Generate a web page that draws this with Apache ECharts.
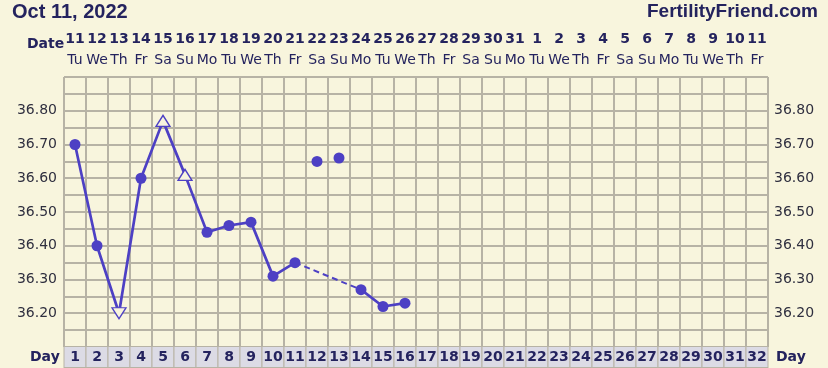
<!DOCTYPE html>
<html>
<head>
<meta charset="utf-8">
<script src="https://cdn.jsdelivr.net/npm/echarts@6/dist/echarts.min.js"></script>
<style>
html,body{margin:0;padding:0;background:#f8f5dd;}
#chart{width:828px;height:368px;}
</style>
</head>
<body>
<div id="chart"></div>
<script>
// ---- data ----
const dayNumbers = ['1','2','3','4','5','6','7','8','9','10','11','12','13','14','15','16','17','18','19','20','21','22','23','24','25','26','27','28','29','30','31','32'];
const dateLabels = ['11','12','13','14','15','16','17','18','19','20','21','22','23','24','25','26','27','28','29','30','31','1','2','3','4','5','6','7','8','9','10','11'];
const weekdayLabels = ['Tu','We','Th','Fr','Sa','Su','Mo','Tu','We','Th','Fr','Sa','Su','Mo','Tu','We','Th','Fr','Sa','Su','Mo','Tu','We','Th','Fr','Sa','Su','Mo','Tu','We','Th','Fr'];
const temps = [36.70, 36.40, 36.20, 36.60, 36.77, 36.61, 36.44, 36.46, 36.47, 36.31, 36.35, 36.65, 36.66, 36.27, 36.22, 36.23];
const markers = ['dot','dot','down','dot','up','up','dot','dot','dot','dot','dot','dot','dot','dot','dot','dot'];
const excludedDays = [12, 13];
const yTickValues = [36.20, 36.30, 36.40, 36.50, 36.60, 36.70, 36.80];

const BLUE = '#4d40c4';
const NAVY = '#24235e';
const GRID = '#b7b3a5';
const BG = '#f8f5dd';

const isExcluded = i => excludedDays.indexOf(i + 1) >= 0;

function symbolFor(m){ return m === 'dot' ? 'circle' : 'triangle'; }

// main connected line (gaps at excluded days)
const mainData = temps.map((v, i) => {
  if (isExcluded(i)) return null;
  const m = markers[i];
  const item = { value: v, symbol: symbolFor(m) };
  if (m === 'up' || m === 'down') {
    item.symbolSize = [14, 11];
    item.symbolRotate = m === 'down' ? 180 : 0;
    item.itemStyle = { color: BG, borderColor: BLUE, borderWidth: 1.3 };
  }
  return item;
});
// dashed bridge over excluded days
const bridgeData = temps.map(() => null);
excludedDays.forEach(d => {
  let a = d - 2; while (a >= 0 && isExcluded(a)) a--;
  let b = d; while (b < temps.length && isExcluded(b)) b++;
  if (a >= 0) bridgeData[a] = temps[a];
  if (b < temps.length) bridgeData[b] = temps[b];
});
const excludedData = temps.map((v, i) => isExcluded(i) ? v : null);

const yFmt = v => {
  const n = Math.round(v * 100);
  for (const t of yTickValues) { if (Math.round(t * 100) === n) return t.toFixed(2); }
  return '';
};

const chart = echarts.init(document.getElementById('chart'), null, { renderer: 'canvas' });
chart.setOption({
  backgroundColor: BG,
  animation: false,
  textStyle: { fontFamily: 'DejaVu Sans' },
  grid: { left: 64, right: 60, top: 77, bottom: 20 },
  xAxis: [
    {
      type: 'category', data: dayNumbers, position: 'bottom', boundaryGap: true,
      axisLine: { show: false }, axisTick: { show: false },
      splitLine: { show: true, interval: 0, lineStyle: { color: GRID, width: 2 } },
      axisLabel: {
        interval: 0, margin: 0, color: NAVY, fontWeight: 'bold', fontSize: 14,
        fontFamily: 'DejaVu Sans',
        backgroundColor: '#dcdbe5', borderColor: GRID, borderWidth: 1,
        width: 21, height: 20, lineHeight: 20, align: 'center', verticalAlign: 'top'
      }
    },
    {
      type: 'category', data: dateLabels, position: 'top', boundaryGap: true,
      axisLine: { show: false }, axisTick: { show: false }, splitLine: { show: false },
      axisLabel: { interval: 0, margin: 31, color: NAVY, fontWeight: 'bold', fontSize: 14, fontFamily: 'DejaVu Sans' }
    },
    {
      type: 'category', data: weekdayLabels, position: 'top', boundaryGap: true,
      axisLine: { show: false }, axisTick: { show: false }, splitLine: { show: false },
      axisLabel: { interval: 0, margin: 10, color: NAVY, fontSize: 14, fontFamily: 'DejaVu Sans' }
    }
  ],
  yAxis: [
    {
      type: 'value', min: 36.10, max: 36.90, interval: 0.05, position: 'left',
      axisLine: { show: false }, axisTick: { show: false },
      splitLine: { show: true, lineStyle: { color: GRID, width: 2 } },
      axisLabel: { formatter: yFmt, margin: 7, color: '#2f2f3f', fontSize: 14, fontFamily: 'DejaVu Sans' }
    },
    {
      type: 'value', min: 36.10, max: 36.90, interval: 0.05, position: 'right',
      axisLine: { show: false }, axisTick: { show: false }, splitLine: { show: false },
      axisLabel: { formatter: yFmt, margin: 6, color: '#2f2f3f', fontSize: 14, fontFamily: 'DejaVu Sans' }
    }
  ],
  series: [
    {
      type: 'line', data: bridgeData, connectNulls: true, showSymbol: false, symbol: 'none',
      lineStyle: { color: BLUE, width: 2, type: [6, 4] }, z: 2, silent: true
    },
    {
      type: 'line', data: mainData, connectNulls: false, symbol: 'circle', symbolSize: 11,
      showAllSymbol: true,
      itemStyle: { color: BLUE }, lineStyle: { color: BLUE, width: 2.7 }, z: 3
    },
    {
      type: 'scatter', data: excludedData, symbol: 'circle', symbolSize: 11,
      itemStyle: { color: BLUE, opacity: 1 }, z: 3
    }
  ],
  graphic: [
    { type: 'text', left: 12, top: 2, style: { text: 'Oct 11, 2022', fill: NAVY, font: 'bold 20px "Liberation Sans", sans-serif' } },
    { type: 'text', right: 10, top: 2, style: { text: 'FertilityFriend.com', fill: NAVY, font: 'bold 19px "Liberation Sans", sans-serif' } },
    { type: 'text', left: 27, top: 37, style: { text: 'Date', fill: NAVY, font: 'bold 14px "DejaVu Sans"' } },
    { type: 'text', left: 30, top: 350, style: { text: 'Day', fill: NAVY, font: 'bold 14px "DejaVu Sans"' } },
    { type: 'text', left: 776, top: 350, style: { text: 'Day', fill: NAVY, font: 'bold 14px "DejaVu Sans"' } }
  ]
});
</script>
</body>
</html>
